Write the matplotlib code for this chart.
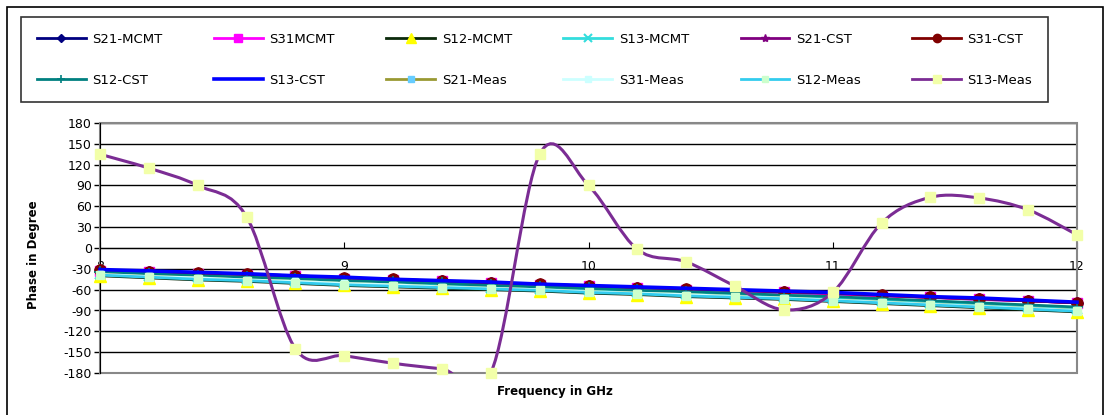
import matplotlib
matplotlib.use("Agg")
import matplotlib.pyplot as plt
from matplotlib.path import Path
from matplotlib.patches import PathPatch, Rectangle

# ---------------- data ----------------
freq = [8.0, 8.2, 8.4, 8.6, 8.8, 9.0, 9.2, 9.4, 9.6, 9.8, 10.0,
        10.2, 10.4, 10.6, 10.8, 11.0, 11.2, 11.4, 11.6, 11.8, 12.0]

s21_mcmt = [-33, -35, -37, -39, -41, -44, -46, -48, -51, -53, -55,
            -57, -60, -62, -64, -66, -69, -71, -74, -76, -79]
s31_mcmt = [-33, -35, -37, -39, -41, -44, -46, -48, -51, -53, -55,
            -57, -60, -62, -64, -66, -69, -71, -74, -76, -79]
s12_mcmt = [-40, -43, -46, -48, -51, -54, -56, -58, -60, -62, -65,
            -67, -70, -72, -74, -77, -80, -83, -86, -89, -92]
s13_mcmt = [-37, -40, -42, -45, -47, -50, -52, -54, -57, -59, -61,
            -64, -66, -68, -71, -73, -76, -79, -82, -85, -88]
s21_cst = [-32, -34, -36, -38, -40, -43, -45, -48, -50, -52, -55,
           -57, -59, -61, -63, -65, -68, -71, -73, -76, -79]
s31_cst = [-32, -34, -36, -38, -40, -43, -45, -48, -50, -52, -55,
           -57, -59, -61, -63, -65, -68, -71, -73, -76, -79]
s12_cst = [-35, -37, -40, -42, -44, -47, -49, -51, -54, -56, -58,
           -61, -63, -65, -68, -70, -73, -76, -79, -82, -85]
s13_cst = [-31, -33, -35, -37, -40, -42, -45, -47, -49, -52, -54,
           -56, -58, -60, -62, -64, -67, -70, -72, -75, -78]
s21_meas = [-38, -41, -43, -46, -48, -51, -53, -56, -58, -60, -63,
            -65, -67, -70, -72, -75, -78, -81, -84, -87, -90]
s31_meas = [-38, -41, -43, -46, -48, -51, -53, -56, -58, -60, -63,
            -65, -67, -70, -72, -75, -78, -81, -84, -87, -90]
s12_meas = [-39, -42, -45, -47, -50, -53, -55, -57, -59, -61, -64,
            -66, -69, -71, -73, -76, -79, -82, -85, -88, -91]
s13_meas = [135, 115, 90, 45, -145, -155, -166, -174, -180, 135, 90,
            -2, -20, -55, -89, -64, 36, 73, 72, 55, 19]

x_ticks = [8, 9, 10, 11, 12]
y_ticks = list(range(-180, 181, 30))

# ---------------- figure ----------------
W, H = 1108, 415
fig = plt.figure(figsize=(W / 100, H / 100), dpi=100)
plt.rcParams['font.family'] = ['DejaVu Sans']

L, R, T, B = 100, 1077, 123, 373
ax = fig.add_axes([L / W, 1 - B / H, (R - L) / W, (B - T) / H])
ax.set_xlim(8, 12)
ax.set_ylim(-180, 180)

series = [
    ("S21-MCMT", s21_mcmt, dict(color='#000080', marker='D', ms=6, mfc='#000080', mec='#000080')),
    ("S31MCMT", s31_mcmt, dict(color='#FF00FF', marker='s', ms=7, mfc='#FF00FF', mec='#FF00FF')),
    ("S12-MCMT", s12_mcmt, dict(color='#0b2a0b', marker='^', ms=9, mfc='#FFFF00', mec='#FFFF00')),
    ("S13-MCMT", s13_mcmt, dict(color='#33DDDD', marker='x', ms=7, mfc='#33DDDD', mec='#33DDDD', mew=1.5)),
    ("S21-CST", s21_cst, dict(color='#800080', marker='*', ms=8, mfc='#800080', mec='#800080')),
    ("S31-CST", s31_cst, dict(color='#800000', marker='o', ms=8, mfc='#800000', mec='#800000')),
    ("S12-CST", s12_cst, dict(color='#008080', marker='+', ms=8, mfc='#008080', mec='#008080', mew=1.2)),
    ("S13-CST", s13_cst, dict(color='#0000FF', marker=None)),
    ("S21-Meas", s21_meas, dict(color='#999933', marker='s', ms=5, mfc='#66CCFF', mec='#66CCFF')),
    ("S31-Meas", s31_meas, dict(color='#CCFFFF', marker='s', ms=5, mfc='#CCFFFF', mec='#CCFFFF')),
    ("S12-Meas", s12_meas, dict(color='#33CCEE', marker='s', ms=6, mfc='#CCFFCC', mec='#CCFFCC')),
]

handles = []
for name, vals, st in series:
    lw = 2.6 if name == "S13-CST" else 2
    ln, = ax.plot(freq, vals, lw=lw, label=name, clip_on=False, zorder=3, **st)
    handles.append(ln)

# S13-Meas: smoothed curve (Excel-style smoothing) plus markers
meas_color = '#7B2C94'
def smooth_path(xs, ys):
    n = len(xs)
    verts = [(xs[0], ys[0])]
    codes = [Path.MOVETO]
    for i in range(n - 1):
        p0 = i - 1 if i > 0 else i
        p3 = i + 2 if i + 2 < n else i + 1
        c1 = (xs[i] + (xs[i + 1] - xs[p0]) / 6, ys[i] + (ys[i + 1] - ys[p0]) / 6)
        c2 = (xs[i + 1] - (xs[p3] - xs[i]) / 6, ys[i + 1] - (ys[p3] - ys[i]) / 6)
        verts += [c1, c2, (xs[i + 1], ys[i + 1])]
        codes += [Path.CURVE4] * 3
    return Path(verts, codes)

ax.add_patch(PathPatch(smooth_path(freq, s13_meas), fill=False, edgecolor=meas_color,
                       lw=2.2, zorder=4))
mline, = ax.plot(freq, s13_meas, color=meas_color, lw=2, marker='s', ms=7,
                 mfc='#F2FFA8', mec='#F2FFA8', label="S13-Meas", clip_on=False, zorder=5)
handles.append(mline)

# legend: Excel fills rows first, matplotlib fills columns first -> reorder
ncol = 6
order = []
for c in range(ncol):
    order += [handles[c], handles[c + ncol]]
leg = fig.legend(handles=order, ncol=ncol, loc='upper left',
                 bbox_to_anchor=(21 / W, 1 - 17 / H), bbox_transform=fig.transFigure,
                 fontsize=9.5, frameon=True, fancybox=False, edgecolor='black',
                 handlelength=3.7, handletextpad=0.5, columnspacing=3.9,
                 labelspacing=2.1, borderpad=1.2, borderaxespad=0, markerscale=0.75)
leg.get_frame().set_linewidth(1.2)
mline.set_linestyle('none')

# grid and axes
ax.set_yticks(y_ticks)
ax.set_yticklabels([str(v) for v in y_ticks], fontsize=9)
ax.yaxis.grid(True, color='black', lw=1)
ax.set_axisbelow(True)
ax.tick_params(axis='y', direction='out', length=4, width=1, pad=2, color='black')

ax.spines['bottom'].set_position(('data', 0))
ax.spines['bottom'].set_color('black')
ax.spines['left'].set_color('black')
ax.spines['top'].set_visible(False)
ax.spines['right'].set_visible(False)
ax.add_patch(Rectangle((0, 0), 1, 1, transform=ax.transAxes, fill=False,
                       edgecolor='#888888', lw=1.5, zorder=2.6, clip_on=False))
ax.spines['left'].set_zorder(2.7)

ax.set_xticks(x_ticks)
ax.set_xticklabels([str(v) for v in x_ticks], fontsize=9)
ax.tick_params(axis='x', direction='in', length=4, pad=9, color='black')

fig.text(33 / W, 1 - 255 / H, "Phase in Degree", rotation=90, ha='center', va='center',
         fontsize=8.5, fontweight='bold')
fig.text(555 / W, 1 - 391 / H, "Frequency in GHz", ha='center', va='center',
         fontsize=8.5, fontweight='bold')

# outer chart border
fig.patches.append(Rectangle((7 / W, -0.05), (1103 - 7) / W, 1 - 7 / H + 0.05,
                             transform=fig.transFigure, fill=False, edgecolor='black', lw=1.2))

fig.savefig("out.png", dpi=100)
